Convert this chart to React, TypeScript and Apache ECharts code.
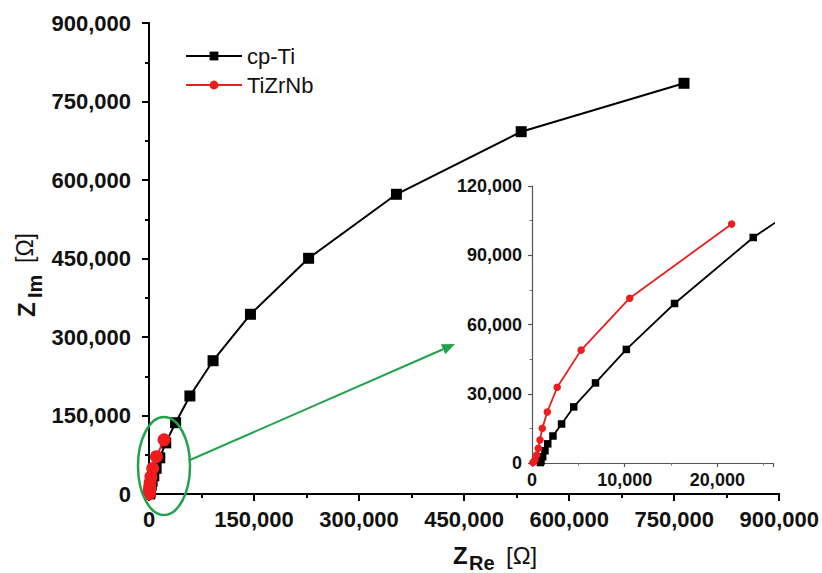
import React, { useEffect, useRef } from "react";
import * as echarts from "echarts";

// Nyquist data: [Z_Re (Ω), Z_Im (Ω)]
const cpTi: [number, number][] = [
  [900, 200], [970, 800], [1150, 2700], [1400, 5300], [1700, 8300],
  [2260, 11700], [3190, 16900], [4500, 24300], [6850, 34700], [10180, 49200],
  [15380, 69100], [23870, 97700], [38000, 136200], [58400, 187300],
  [91500, 254700], [144900, 343400], [227900, 450400], [353300, 572700],
  [531500, 692300], [764000, 784800],
];
const tiZrNb: [number, number][] = [
  [100, 200], [320, 1300], [500, 3500], [680, 6400], [860, 10000],
  [1110, 15000], [1650, 22100], [2720, 32800], [5300, 48900],
  [10540, 71400], [21540, 103500],
];
const seriesNames = ["cp-Ti", "TiZrNb"];
const mainTicks = [0, 150000, 300000, 450000, 600000, 750000, 900000];
const insetXTicks = [0, 10000, 20000];
const insetXMax = 26000;
const insetYTicks = [0, 30000, 60000, 90000, 120000];

const FONT = "'Liberation Sans', Arial, sans-serif";
const GREEN = "#22a24c";
const RED = "#ee1c1c";

const fmt = (v: number) => Math.round(v).toLocaleString("en-US");

export default function App() {
  const ref = useRef<HTMLDivElement>(null);
  useEffect(() => {
    if (!ref.current) return;
    const chart = echarts.init(ref.current, null, { renderer: "svg" });
    const mainAxisCommon = {
      type: "value" as const,
      min: mainTicks[0],
      max: mainTicks[mainTicks.length - 1],
      interval: mainTicks[1] - mainTicks[0],
      splitLine: { show: false },
      axisLine: { show: true, onZero: false, lineStyle: { color: "#000", width: 2 } },
      axisTick: { show: true, length: 7, lineStyle: { color: "#000", width: 2 } },
      minorTick: { show: true, splitNumber: 2, length: 4, lineStyle: { color: "#000", width: 2 } },
      axisLabel: {
        formatter: fmt,
        fontSize: 22,
        fontWeight: "bold" as const,
        fontFamily: FONT,
        color: "#111",
      },
    };
    const insetAxisCommon = {
      type: "value" as const,
      splitLine: { show: false },
      axisLine: { show: true, onZero: false, lineStyle: { color: "#555", width: 1.2 } },
      axisTick: { show: true, length: 4, lineStyle: { color: "#555", width: 1.2 } },
      minorTick: { show: true, splitNumber: 2, length: 2.5, lineStyle: { color: "#777", width: 1 } },
      axisLabel: {
        formatter: fmt,
        fontSize: 18,
        fontWeight: "bold" as const,
        fontFamily: FONT,
        color: "#111",
        showMaxLabel: false,
      },
    };

    // arrow geometry (annotation)
    const ax0 = 190, ay0 = 460, ax1 = 455, ay1 = 344;
    const dx = ax1 - ax0, dy = ay1 - ay0;
    const len = Math.sqrt(dx * dx + dy * dy);
    const ux = dx / len, uy = dy / len;
    const nx = -uy, ny = ux;
    const headL = 13, headW = 5.5;
    const bx = ax1 - headL * ux, by = ay1 - headL * uy;

    chart.setOption({
      animation: false,
      backgroundColor: "#fff",
      textStyle: { fontFamily: FONT },
      legend: {
        data: seriesNames,
        orient: "vertical",
        left: 180,
        top: 40,
        itemWidth: 56,
        itemHeight: 11,
        itemGap: 7,
        textStyle: { fontSize: 22, fontFamily: FONT, color: "#111", lineHeight: 22 },
      },
      grid: [
        { left: 149, top: 23, width: 631, height: 471 },
        { left: 532, top: 186, width: 241, height: 277 },
      ],
      xAxis: [
        { ...mainAxisCommon, gridIndex: 0, axisLabel: { ...mainAxisCommon.axisLabel, margin: 14 } },
        {
          ...insetAxisCommon,
          gridIndex: 1,
          min: insetXTicks[0],
          max: insetXMax,
          interval: insetXTicks[1] - insetXTicks[0],
          axisLabel: { ...insetAxisCommon.axisLabel, margin: 8 },
        },
      ],
      yAxis: [
        { ...mainAxisCommon, gridIndex: 0, axisLabel: { ...mainAxisCommon.axisLabel, margin: 18 } },
        {
          ...insetAxisCommon,
          gridIndex: 1,
          min: insetYTicks[0],
          max: insetYTicks[insetYTicks.length - 1],
          interval: insetYTicks[1] - insetYTicks[0],
          axisLabel: { ...insetAxisCommon.axisLabel, margin: 10, showMaxLabel: true },
        },
      ],
      series: [
        {
          name: seriesNames[0], type: "line", xAxisIndex: 0, yAxisIndex: 0, data: cpTi,
          symbol: "rect", symbolSize: 11, color: "#000",
          lineStyle: { color: "#000", width: 2 }, itemStyle: { color: "#000" }, z: 2,
        },
        {
          name: seriesNames[1], type: "line", xAxisIndex: 0, yAxisIndex: 0, data: tiZrNb,
          symbol: "circle", symbolSize: 13, color: RED,
          lineStyle: { color: RED, width: 2 }, itemStyle: { color: RED }, z: 3,
        },
        {
          name: seriesNames[0], type: "line", xAxisIndex: 1, yAxisIndex: 1, data: cpTi,
          symbol: "rect", symbolSize: 7.5, color: "#000", clip: true,
          lineStyle: { color: "#000", width: 1.8 }, itemStyle: { color: "#000" }, z: 2,
        },
        {
          name: seriesNames[1], type: "line", xAxisIndex: 1, yAxisIndex: 1, data: tiZrNb,
          symbol: "circle", symbolSize: 7.5, color: RED, clip: true,
          lineStyle: { color: RED, width: 1.8 }, itemStyle: { color: RED }, z: 3,
        },
      ],
      graphic: [
        {
          type: "ellipse",
          shape: { cx: 164, cy: 466, rx: 26, ry: 49 },
          style: { fill: "none", stroke: GREEN, lineWidth: 2.5 },
          z: 10,
        },
        {
          type: "line",
          shape: { x1: ax0, y1: ay0, x2: bx, y2: by },
          style: { stroke: GREEN, lineWidth: 2 },
          z: 10,
        },
        {
          type: "polygon",
          shape: {
            points: [
              [ax1, ay1],
              [bx + headW * nx, by + headW * ny],
              [bx - headW * nx, by - headW * ny],
            ],
          },
          style: { fill: GREEN },
          z: 10,
        },
        // x-axis title: Z_Re [Ω]
        {
          type: "group",
          z: 10,
          children: [
            { type: "text", x: 453, y: 543, style: { text: "Z", font: `bold 24px ${FONT}`, fill: "#111", verticalAlign: "top" } },
            { type: "text", x: 469, y: 553, style: { text: "Re", font: `bold 20px ${FONT}`, fill: "#111", verticalAlign: "top" } },
            { type: "text", x: 506, y: 543, style: { text: "[Ω]", font: `24px ${FONT}`, fill: "#111", verticalAlign: "top" } },
          ],
        },
        // y-axis title: Z_Im [Ω] (rotated)
        {
          type: "group",
          x: 0,
          y: 319,
          rotation: Math.PI / 2,
          z: 10,
          children: [
            { type: "text", x: 2, y: 14, style: { text: "Z", font: `bold 24px ${FONT}`, fill: "#111", verticalAlign: "top" } },
            { type: "text", x: 21, y: 25, style: { text: "Im", font: `bold 20px ${FONT}`, fill: "#111", verticalAlign: "top" } },
            { type: "text", x: 56, y: 13, style: { text: "[Ω]", font: `23px ${FONT}`, fill: "#111", verticalAlign: "top" } },
          ],
        },
      ],
    });
    return () => chart.dispose();
  }, []);
  return (
    <div
      ref={ref}
      style={{ position: "fixed", left: 0, top: 0, width: 822, height: 573, background: "#fff" }}
    />
  );
}
